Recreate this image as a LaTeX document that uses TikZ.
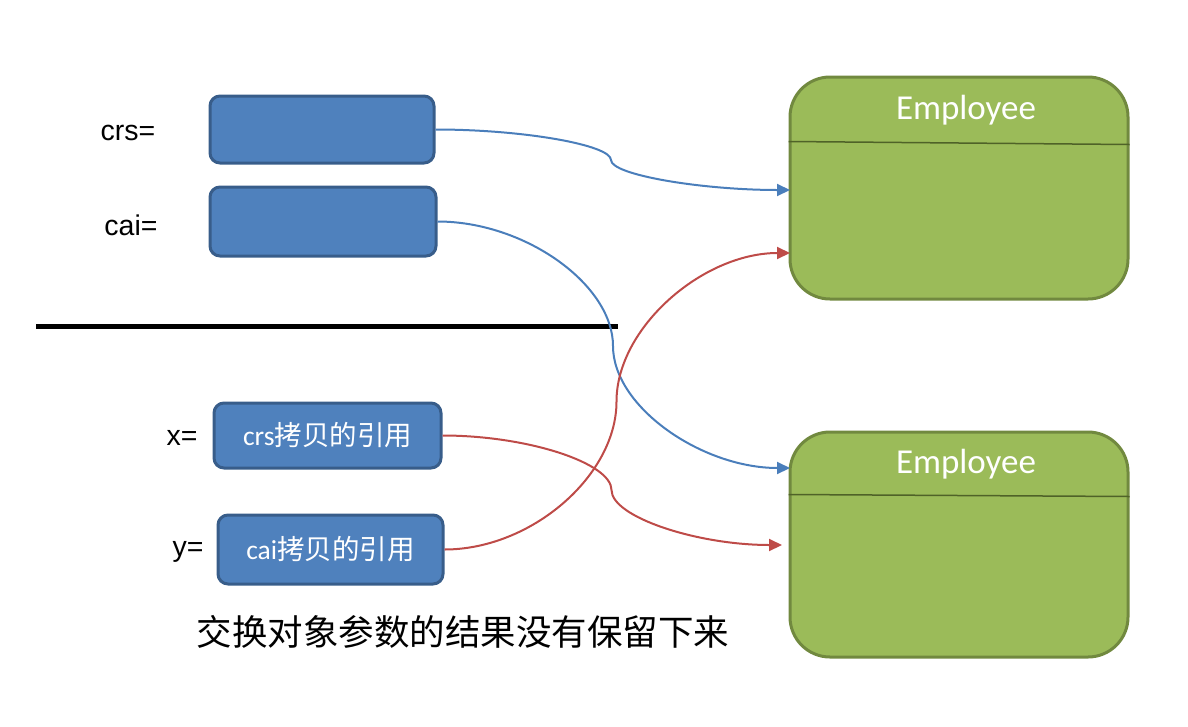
\documentclass[tikz,border=0pt]{standalone}
\usepackage{fontspec}
\setmainfont{Liberation Sans}
\newfontfamily\cjk{Noto Sans CJK SC}
\newfontfamily\cali{Carlito}
\usetikzlibrary{arrows.meta,calc}

\definecolor{reffill}{HTML}{4F81BD}
\definecolor{refdraw}{HTML}{385D8A}
\definecolor{empfill}{HTML}{9BBB59}
\definecolor{empdraw}{HTML}{71893F}
\definecolor{empline}{HTML}{4F6228}
\definecolor{blueline}{HTML}{4A7EBB}
\definecolor{redline}{HTML}{BE4B48}

\tikzset{
  refbox/.style={draw=refdraw, fill=reffill, line width=3pt, rounded corners=10pt,
                 text=white, font=\fontsize{27.5}{32}\selectfont},
  empbox/.style={draw=empdraw, fill=empfill, line width=3pt, rounded corners=40pt,
                 minimum width=338pt},
  emptitle/.style={text=white, font=\cali\fontsize{35}{40}\selectfont},
  varlabel/.style={font=\fontsize{28.5}{32}\selectfont},
  blueref/.style={draw=blueline, line width=2pt, -{Triangle[length=13pt,width=12pt]}},
  redref/.style={draw=redline, line width=2pt, -{Triangle[length=13pt,width=12pt]}}
}

\begin{document}
\begin{tikzpicture}[x=1pt, y=-1pt]
\useasboundingbox (0,0) rectangle (1188,726);

% references
\node[refbox, minimum width=224pt, minimum height=67pt] (crs) at (322,129.5) {};
\node[refbox, minimum width=226pt, minimum height=69pt] (cai) at (323,221.5) {};
\node[refbox, minimum width=227pt, minimum height=65pt] (x) at (327.5,435.5)
  {{\cali crs}{\cjk 拷贝的引用}};
\node[refbox, minimum width=225pt, minimum height=69pt] (y) at (330.5,549.5)
  {{\cali cai}{\cjk 拷贝的引用}};

\node[varlabel] (crslabel) at (128,133) {crs=};
\node[varlabel] (cailabel) at (131,225) {cai=};
\node[varlabel] (xlabel) at (182,438) {x=};
\node[varlabel] (ylabel) at (188,552) {y=};

\draw[line width=5pt] (36,326) -- (618,326);

% objects
\node[empbox, minimum height=222pt] (emp1) at (959,188) {};
\node[empbox, minimum height=225pt] (emp2) at (959,544.5) {};
\node[emptitle] (title1) at (966,110) {Employee};
\node[emptitle] (title2) at (966,464) {Employee};
\draw[empline, line width=1.5pt] ($(emp1.north west)+(0,66)$) -- ($(emp1.north east)+(0,69)$);
\draw[empline, line width=1.5pt] ($(emp2.north west)+(0,64)$) -- ($(emp2.north east)+(0,66)$);

\coordinate (t1) at (790,190);
\coordinate (t2) at (790,468);
\coordinate (t3) at (782,545);
\coordinate (t4) at (790,253);
\coordinate (m1) at (611,160);
\coordinate (m2) at (613,346);
\coordinate (m3) at (611.5,490);
\coordinate (m4) at (616.5,401.5);

\draw[blueref] (crs.east) .. controls +(88,0) and +(0,-15) .. (m1)
                          .. controls +(0,15) and +(-88,0) .. (t1);
\draw[blueref] (cai.east) .. controls +(88,0) and +(0,-61) .. (m2)
                          .. controls +(0,61) and +(-88,0) .. (t2);
\draw[redref] (x.east) .. controls +(85,0) and +(0,-27) .. (m3)
                       .. controls +(0,27) and +(-85,0) .. (t3);
\draw[redref] (y.east) .. controls +(87,0) and +(0,74) .. (m4)
                       .. controls +(0,-74) and +(-87,0) .. (t4);

\node[font=\cjk\fontsize{35.5}{40}\selectfont] (caption) at (463,632)
  {交换对象参数的结果没有保留下来};
\end{tikzpicture}
\end{document}
